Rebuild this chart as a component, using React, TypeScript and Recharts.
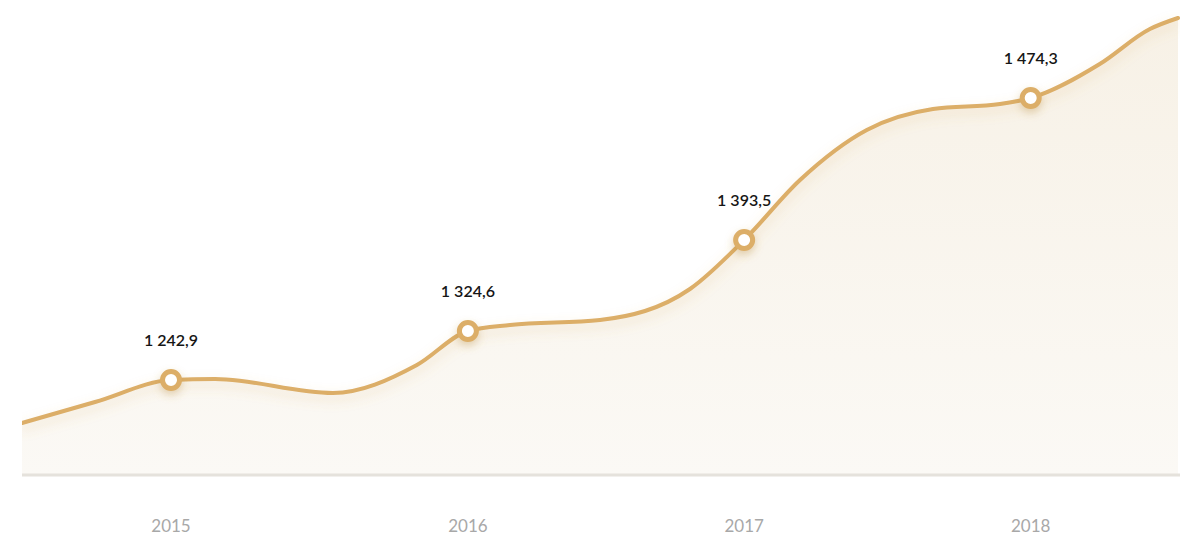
import React from 'react';
import { ComposedChart, Area, Line, Scatter, XAxis, YAxis } from 'recharts';

// Curve samples (x in fractional years, y in chart height units)
const curveX = [
  2014.48, 2014.735, 2015, 2015.154, 2015.565, 2015.858, 2016.036, 2016.183, 2016.497, 2016.811,
  2017, 2017.195, 2017.428, 2017.659, 2017.893, 2018, 2018.241, 2018.416, 2018.514,
];
const curveY = [
  52, 73, 95, 96, 82, 110, 144, 150, 155, 186,
  235, 295, 345, 366, 371, 377, 411, 446, 457,
];

// Highlighted years
const yearLabels = ['2015', '2016', '2017', '2018'];
const yearX = [2015, 2016.036, 2017, 2018];
const yearY = [95, 144, 235, 377];
const yearValues = [1242.9, 1324.6, 1393.5, 1474.3];

const curveData = curveX.map((x, i) => ({ x, y: curveY[i] }));
const keyData = yearX.map((x, i) => ({ x, y: yearY[i], value: yearValues[i], label: yearLabels[i] }));

const GOLD = '#dcae67';

const fmt = (v: number) => {
  const [int, dec] = v.toFixed(1).split('.');
  return int.replace(/\B(?=(\d{3})+(?!\d))/g, ' ') + ',' + dec;
};

const KeyDot = (props: any) => {
  const { cx, cy, payload } = props;
  if (cx == null || cy == null) return null;
  return (
    <g>
      <circle cx={cx} cy={cy} r={8.5} fill="#ffffff" stroke={GOLD} strokeWidth={5} filter="url(#dotShadow)" />
      <text
        x={cx}
        y={cy - 34}
        textAnchor="middle"
        fill="#161616"
        fontSize={16}
        fontWeight={600}
        fontFamily="Lato, 'Noto Sans', sans-serif"
      >
        {fmt(payload.value)}
      </text>
    </g>
  );
};

const YearTick = (props: any) => {
  const { x, y, payload } = props;
  const idx = yearX.indexOf(payload.value);
  return (
    <text x={x} y={y + 57} textAnchor="middle" fill="#a8a8a8" fontSize={17} fontFamily="Lato, 'Noto Sans', sans-serif">
      {idx >= 0 ? yearLabels[idx] : ''}
    </text>
  );
};

export default function App() {
  return (
    <div style={{ position: 'absolute', left: 0, top: 0, width: 1200, height: 541, background: '#fff' }}>
      <ComposedChart width={1200} height={541} margin={{ top: 18, right: 20, left: 22, bottom: 0 }}>
        <defs>
          <linearGradient id="areaFill" x1="0" y1="0" x2="0" y2="1">
            <stop offset="0%" stopColor="#f7f1e6" stopOpacity={1} />
            <stop offset="100%" stopColor="#fbf9f5" stopOpacity={1} />
          </linearGradient>
          <filter id="lineGlow" x="-5%" y="-30%" width="110%" height="160%">
            <feDropShadow dx="0" dy="5" stdDeviation="6" floodColor="#d6a553" floodOpacity="0.28" />
          </filter>
          <filter id="dotShadow" x="-100%" y="-100%" width="300%" height="300%">
            <feDropShadow dx="0" dy="4" stdDeviation="4" floodColor="#b88a3e" floodOpacity="0.35" />
          </filter>
        </defs>
        <XAxis
          type="number"
          dataKey="x"
          domain={[2014.48, 2018.521]}
          ticks={yearX}
          allowDataOverflow
          height={66}
          tickLine={false}
          tickSize={0}
          tickMargin={0}
          axisLine={{ stroke: '#e5e2dc', strokeWidth: 3 }}
          tick={<YearTick />}
          interval={0}
        />
        <YAxis type="number" dataKey="y" domain={[0, 457]} hide />
        <Area
          data={curveData}
          dataKey="y"
          type="monotone"
          stroke="none"
          fill="url(#areaFill)"
          fillOpacity={1}
          isAnimationActive={false}
          dot={false}
          activeDot={false}
        />
        <Line
          data={curveData}
          dataKey="y"
          type="monotone"
          stroke={GOLD}
          strokeWidth={4}
          strokeLinecap="round"
          dot={false}
          activeDot={false}
          filter="url(#lineGlow)"
          isAnimationActive={false}
        />
        <Scatter data={keyData} dataKey="y" shape={<KeyDot />} isAnimationActive={false} />
      </ComposedChart>
    </div>
  );
}
